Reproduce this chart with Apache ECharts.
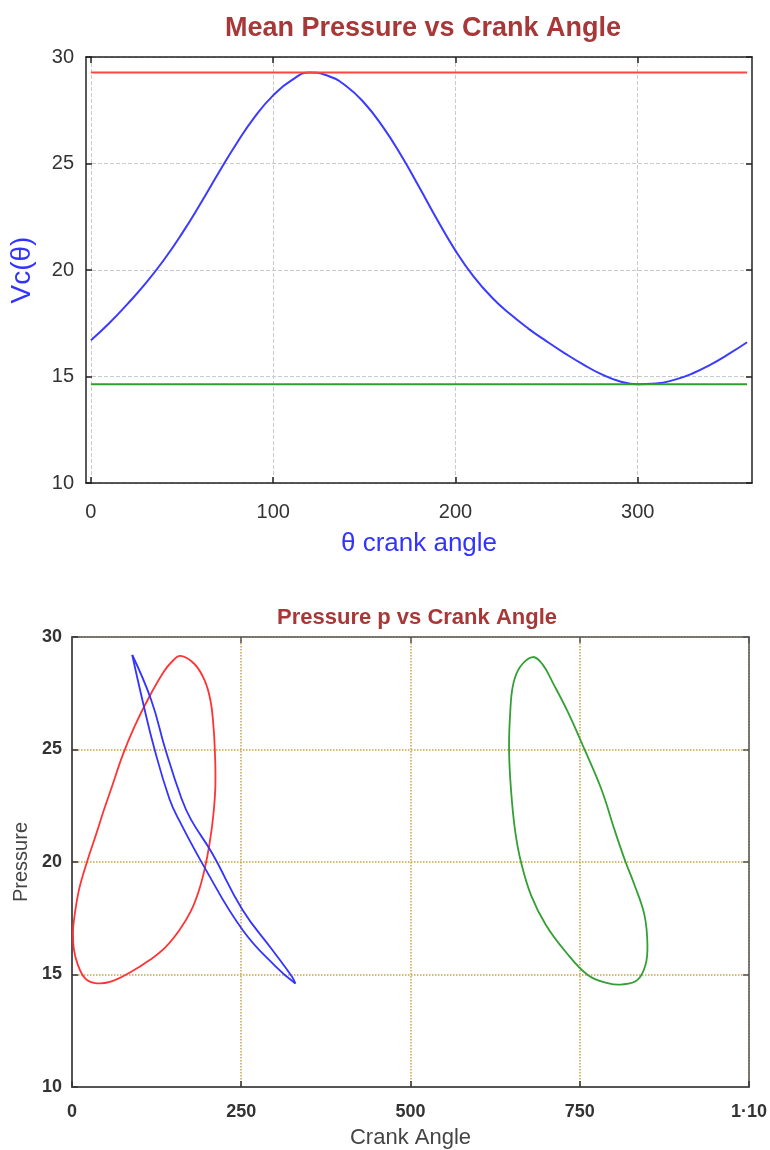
<!DOCTYPE html>
<html>
<head>
<meta charset="utf-8">
<title>Mean Pressure vs Crank Angle</title>
<script src="https://cdn.jsdelivr.net/npm/echarts@6/dist/echarts.min.js"></script>
<style>
  html, body { margin: 0; padding: 0; background: #fff; }
  #chart { width: 770px; height: 1150px; }
</style>
</head>
<body>
<div id="chart"></div>
<script>
// Top chart: mean pressure Vc(θ) against crank angle
const thetaDeg = [0, 10, 20, 30, 40, 50, 60, 70, 80, 90, 100, 110, 120, 130, 140, 150, 160, 170, 180,
  190, 200, 210, 220, 230, 240, 250, 260, 270, 280, 290, 300, 310, 320, 330, 340, 350, 360]
const vcTheta = [16.7, 17.5, 18.4, 19.37, 20.47, 21.72, 23.1, 24.55, 25.95, 27.2, 28.2, 28.9, 29.27, 29.12, 28.64, 27.84, 26.74, 25.41, 23.91,
  22.36, 20.91, 19.69, 18.71, 17.93, 17.25, 16.65, 16.09, 15.57, 15.11, 14.78, 14.64, 14.67, 14.84, 15.14, 15.56, 16.06, 16.61]
const thetaEnds = [0, 360]
const vcMax = 29.27
const vcMin = 14.64
const topXTicks = [0, 100, 200, 300]

// Bottom chart: pressure p against crank angle, three closed loops
const redX = [160.3, 180.9, 195.6, 204.4, 208.8, 211.0, 211.8, 208.8, 202.9, 195.6, 186.8, 175.0, 158.8, 138.2, 114.7, 86.8,
  55.9, 33.8, 19.1, 8.8, 2.9, 1.5, 2.9, 10.3, 22.1, 35.3, 47.1, 58.8, 75.0, 92.6, 113.2, 135.3, 147.1]
const redY = [29.16, 28.8, 28.09, 27.2, 26.09, 24.98, 23.42, 22.09, 20.76, 19.64, 18.67, 17.78, 16.98, 16.22, 15.64, 15.11,
  14.67, 14.62, 14.84, 15.42, 16.09, 16.89, 17.42, 18.76, 20.0, 21.2, 22.31, 23.33, 24.76, 26.04, 27.29, 28.44, 28.89]
// blue loop: two branches between the sharp tips
const blueLeftX = [89, 104, 122, 144, 158, 198, 252, 301, 330]
const blueLeftY = [29.2, 27.2, 25.0, 22.8, 21.87, 19.64, 16.98, 15.35, 14.6]
const blueRightX = [330, 325, 296, 252, 207, 176, 162, 138, 117, 89]
const blueRightY = [14.6, 14.9, 16.09, 17.87, 20.39, 21.87, 22.8, 25.0, 27.2, 29.2]
const greenX = [680.9, 661.8, 651.5, 647.1, 645.6, 648.5, 654.4, 663.2, 678.0, 700.0, 729.4, 761.8, 791.2, 813.2,
  835.3, 847.1, 850.0, 845.6, 830.9, 817.7, 801.5, 782.4, 757.4, 732.4, 710.3, 695.6]
const greenY = [29.11, 28.67, 27.87, 26.53, 24.98, 23.2, 21.42, 20.0, 18.53, 17.2, 16.0, 14.98, 14.62, 14.56,
  14.76, 15.42, 16.31, 17.64, 18.98, 20.0, 21.42, 23.2, 24.98, 26.67, 27.96, 28.76]
const bottomXLabels = { 0: '0', 250: '250', 500: '500', 750: '750', 1000: '1·10' }

const FONT = '"Liberation Sans", Arial, sans-serif'

/**
 * zip two arrays into [x, y] pairs
 */
function toPairs(xs, ys) {
  return xs.map((x, i) => [x, ys[i]])
}

/**
 * a mirror axis (top / right) that only shows inward ticks
 */
function mirrorAxis(base, color) {
  return Object.assign({
    type: 'value',
    axisLine: { show: true, onZero: false, lineStyle: { color, width: 1.5 } },
    axisTick: { show: true, inside: true, length: 6, lineStyle: { color, width: 1.5 } },
    axisLabel: { show: false },
    splitLine: { show: false }
  }, base)
}

/**
 * closed or open smooth curve on the bottom grid, points mapped through the axes
 * paths: list of [xs, ys, closed]
 */
function curveSeries(name, paths, color, smooth) {
  return {
    name,
    type: 'custom',
    xAxisIndex: 2,
    yAxisIndex: 2,
    data: toPairs(paths[0][0], paths[0][1]),
    renderItem: (params, api) => {
      if (params.dataIndex !== 0) return null
      return {
        type: 'group',
        children: paths.map(([xs, ys, closed]) => ({
          type: closed ? 'polygon' : 'polyline',
          shape: { points: xs.map((x, i) => api.coord([x, ys[i]])), smooth },
          style: { fill: 'none', stroke: color, lineWidth: 1.8 }
        }))
      }
    }
  }
}

const chart = echarts.init(document.getElementById('chart'), null, { renderer: 'canvas' })

const topLine = '#222'
const botLine = '#555'
const goldGrid = '#c8a448'

chart.setOption({
  animation: false,
  backgroundColor: '#fff',
  title: [
    {
      text: 'Mean Pressure vs Crank Angle',
      left: 418,
      top: 10,
      textAlign: 'center',
      textStyle: { color: '#a83838', fontSize: 27, fontWeight: 'bold', fontFamily: FONT }
    },
    {
      text: 'Pressure p vs Crank Angle',
      left: 412,
      top: 602,
      textAlign: 'center',
      textStyle: { color: '#a83838', fontSize: 22, fontWeight: 'bold', fontFamily: FONT }
    }
  ],
  grid: [
    { left: 85, right: 18, top: 57, bottom: 667 },
    { left: 72, right: 18, top: 637, bottom: 63 }
  ],
  xAxis: [
    {
      gridIndex: 0,
      type: 'value',
      position: 'bottom',
      min: -2.7,
      max: 362.7,
      name: 'θ crank angle',
      nameLocation: 'middle',
      nameGap: 48,
      nameTextStyle: { color: '#3333ff', fontSize: 26, fontFamily: FONT },
      axisLine: { show: true, onZero: false, lineStyle: { color: topLine, width: 1.5 } },
      axisTick: { show: true, inside: true, length: 6, customValues: topXTicks, lineStyle: { color: topLine, width: 1.5 } },
      axisLabel: { customValues: topXTicks, color: '#333', fontSize: 20, margin: 19, fontFamily: FONT },
      splitLine: { show: true, lineStyle: { type: 'dashed', color: '#cacaca', width: 1 } }
    },
    mirrorAxis({
      gridIndex: 0,
      position: 'top',
      min: -2.7,
      max: 362.7,
      axisTick: { show: true, inside: true, length: 6, customValues: topXTicks, lineStyle: { color: topLine, width: 1.5 } }
    }, topLine),
    {
      gridIndex: 1,
      type: 'value',
      position: 'bottom',
      min: 0,
      max: 1000,
      interval: 250,
      name: 'Crank Angle',
      nameLocation: 'middle',
      nameGap: 40,
      nameTextStyle: { color: '#444', fontSize: 22, fontFamily: FONT },
      axisLine: { show: true, onZero: false, lineStyle: { color: botLine, width: 2 } },
      axisTick: { show: true, inside: true, length: 6, lineStyle: { color: '#333', width: 1.5 } },
      axisLabel: {
        color: '#333',
        fontSize: 18,
        fontWeight: 'bold',
        margin: 16,
        fontFamily: FONT,
        formatter: (v) => bottomXLabels[v] ?? String(v)
      },
      splitLine: { show: true, lineStyle: { type: 'dotted', color: goldGrid, width: 1.5 } }
    },
    mirrorAxis({ gridIndex: 1, position: 'top', min: 0, max: 1000, interval: 250 }, botLine)
  ],
  yAxis: [
    {
      gridIndex: 0,
      type: 'value',
      position: 'left',
      min: 10,
      max: 30,
      interval: 5,
      name: 'Vc(θ)',
      nameLocation: 'middle',
      nameGap: 50,
      nameTextStyle: { color: '#3333ff', fontSize: 28, fontFamily: FONT },
      axisLine: { show: true, onZero: false, lineStyle: { color: topLine, width: 1.5 } },
      axisTick: { show: true, inside: true, length: 6, lineStyle: { color: topLine, width: 1.5 } },
      axisLabel: { color: '#333', fontSize: 20, margin: 12, fontFamily: FONT },
      splitLine: { show: true, lineStyle: { type: 'dashed', color: '#cacaca', width: 1 } }
    },
    mirrorAxis({ gridIndex: 0, position: 'right', min: 10, max: 30, interval: 5 }, topLine),
    {
      gridIndex: 1,
      type: 'value',
      position: 'left',
      min: 10,
      max: 30,
      interval: 5,
      name: 'Pressure',
      nameLocation: 'middle',
      nameGap: 40,
      nameTextStyle: { color: '#444', fontSize: 20, fontFamily: FONT },
      axisLine: { show: true, onZero: false, lineStyle: { color: botLine, width: 2 } },
      axisTick: { show: true, inside: true, length: 6, lineStyle: { color: '#333', width: 1.5 } },
      axisLabel: { color: '#333', fontSize: 18, fontWeight: 'bold', margin: 10, fontFamily: FONT },
      splitLine: { show: true, lineStyle: { type: 'dotted', color: goldGrid, width: 1.5 } }
    },
    mirrorAxis({ gridIndex: 1, position: 'right', min: 10, max: 30, interval: 5 }, botLine)
  ],
  series: [
    {
      name: 'Vc',
      type: 'line',
      xAxisIndex: 0,
      yAxisIndex: 0,
      smooth: 0.5,
      showSymbol: false,
      lineStyle: { color: '#3b3bff', width: 2 },
      data: toPairs(thetaDeg, vcTheta)
    },
    {
      name: 'max',
      type: 'line',
      xAxisIndex: 0,
      yAxisIndex: 0,
      showSymbol: false,
      lineStyle: { color: '#ff4444', width: 2 },
      data: thetaEnds.map(t => [t, vcMax])
    },
    {
      name: 'min',
      type: 'line',
      xAxisIndex: 0,
      yAxisIndex: 0,
      showSymbol: false,
      lineStyle: { color: '#2ca02c', width: 2 },
      data: thetaEnds.map(t => [t, vcMin])
    },
    curveSeries('red loop', [[redX, redY, true]], '#ff3333', 0.4),
    curveSeries('blue loop', [[blueLeftX, blueLeftY, false], [blueRightX, blueRightY, false]], '#3333ff', 0.45),
    curveSeries('green loop', [[greenX, greenY, true]], '#33a033', 0.4)
  ]
})
</script>
</body>
</html>
